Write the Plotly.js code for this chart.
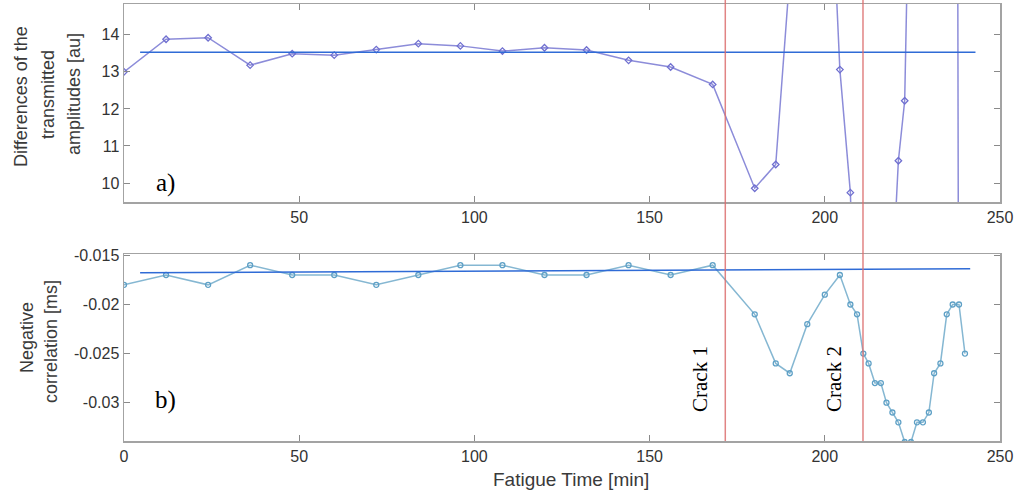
<!DOCTYPE html>
<html>
<head>
<meta charset="utf-8">
<script src="https://cdn.plot.ly/plotly-3.0.1.min.js"></script>
<style>html,body{margin:0;padding:0;background:#fff;}#chart{width:1020px;height:494px;}</style>
</head>
<body>
<div id="chart"></div>
<script>
// Fatigue time [min]
const fatigueTime = [0,12,24,36,48,60,72,84,96,108,120,132,144,156,168,180,186,190,195,200,204.3,207.3,209.2,211,212.5,214.3,216,217.6,219.3,221,222.8,224.6,226.3,228,229.7,231.2,233,234.8,236.5,238.3,240];
// a) Differences of the transmitted amplitudes [au] (values beyond the axis range are estimated)
const ampDiff = [13.0,13.88,13.92,13.18,13.49,13.45,13.6,13.76,13.70,13.56,13.65,13.59,13.31,13.13,12.66,9.86,10.50,15.6,24,22,13.06,9.74,4,2,1,2,3,4,7.4,10.6,12.22,20,30,40,45,55,60,70,80,0,2];
// b) Negative correlation [ms]
const negCorr = [-0.018,-0.017,-0.018,-0.016,-0.017,-0.017,-0.018,-0.017,-0.016,-0.016,-0.017,-0.017,-0.016,-0.017,-0.016,-0.021,-0.026,-0.027,-0.022,-0.019,-0.017,-0.020,-0.021,-0.025,-0.026,-0.028,-0.028,-0.030,-0.031,-0.032,-0.034,-0.034,-0.032,-0.032,-0.031,-0.027,-0.026,-0.021,-0.020,-0.020,-0.025];
// reference (mean / fit) lines
const ampRefX = [4.6, 243];
const ampRefY = [13.53, 13.53];
const corrRefX = [4.6, 241.5];
const corrRefY = [-0.01677, -0.01636];
// crack onsets [min]
const crackTimes = [171.6, 210.9];
const crackLabels = ["Crack 1", "Crack 2"];
// tick labels
const ampTicks = [10, 11, 12, 13, 14];
const corrTicks = [-0.015, -0.02, -0.025, -0.03];
const corrTickText = ["-0.015", "-0.02", "-0.025", "-0.03"];
const timeTicksTop = [50, 100, 150, 200, 250];
const timeTicksBottom = [0, 50, 100, 150, 200, 250];

const tickFont = {family: "Liberation Sans, Arial, sans-serif", size: 16, color: "#333"};
const axisCommon = {
  showgrid: false, zeroline: false, showline: true, linecolor: "#a3a3a3", linewidth: 1.5,
  mirror: "ticks", ticks: "inside", ticklen: 6, tickwidth: 1, tickcolor: "#8a8a8a",
  tickfont: tickFont
};

const traces = [
  {x: fatigueTime, y: ampDiff, xaxis: "x", yaxis: "y", mode: "lines+markers", type: "scatter",
   line: {color: "rgba(120,120,210,0.85)", width: 1.5},
   marker: {symbol: "diamond-open", size: 5, color: "#7070d0", line: {width: 1.3}}, cliponaxis: true},
  {x: ampRefX, y: ampRefY, xaxis: "x", yaxis: "y", mode: "lines", type: "scatter",
   line: {color: "#2f6bd6", width: 1.5}},
  {x: fatigueTime, y: negCorr, xaxis: "x2", yaxis: "y2", mode: "lines+markers", type: "scatter",
   line: {color: "rgba(120,175,205,0.9)", width: 1.5},
   marker: {symbol: "circle-open", size: 5, color: "#5ea0c6", line: {width: 1.3}}},
  {x: corrRefX, y: corrRefY, xaxis: "x2", yaxis: "y2", mode: "lines", type: "scatter",
   line: {color: "#2f6bd6", width: 1.5}}
];

const shapes = crackTimes.map(t => ({
  type: "line", xref: "x2", yref: "paper", x0: t, x1: t, y0: 0, y1: 1.01,
  line: {color: "rgba(220,110,110,0.85)", width: 1.5}, layer: "above"
}));

const ann = (text, x, y, size, opts) => Object.assign({
  text: text, xref: "paper", yref: "paper", x: x, y: y, showarrow: false,
  font: {family: "Liberation Sans, Arial, sans-serif", size: size, color: "#3a3a3a"},
  xanchor: "center", yanchor: "middle"
}, opts || {});

// paper coords helpers (plot area: left 124, right 1000, top 4, bottom 441)
const W = 876, H = 437, L = 124, T = 4;
const px = x => (x - L) / W;
const py = y => (T + H - y) / H;

const annotations = [
  ann("Differences of the", px(21), py(97), 18, {textangle: -90}),
  ann("transmitted", px(48), py(95), 18, {textangle: -90}),
  ann("amplitudes [au]", px(74), py(94), 18, {textangle: -90}),
  ann("Negative", px(27), py(338), 18, {textangle: -90}),
  ann("correlation [ms]", px(51), py(342), 18, {textangle: -90}),
  ann("Fatigue Time [min]", px(571), py(479), 19),
  ann("a)", px(165), py(183), 25, {font: {family: "Liberation Serif, Times New Roman, serif", size: 25, color: "#000"}}),
  ann("b)", px(165), py(400), 25, {font: {family: "Liberation Serif, Times New Roman, serif", size: 25, color: "#000"}}),
  ann(crackLabels[0], px(700), py(379), 21, {textangle: -90, font: {family: "Liberation Serif, Times New Roman, serif", size: 21, color: "#000"}}),
  ann(crackLabels[1], px(834), py(379), 21, {textangle: -90, font: {family: "Liberation Serif, Times New Roman, serif", size: 21, color: "#000"}})
];

const layout = {
  width: 1020, height: 494,
  margin: {l: 124, r: 20, t: 4, b: 53},
  paper_bgcolor: "#fff", plot_bgcolor: "#fff",
  showlegend: false,
  xaxis: Object.assign({}, axisCommon, {domain: [0, 1], anchor: "y", range: [0, 250], tickvals: timeTicksTop}),
  yaxis: Object.assign({}, axisCommon, {domain: [(441 - 202.3) / 437, 1], anchor: "x", range: [9.48, 14.83], tickvals: ampTicks}),
  xaxis2: Object.assign({}, axisCommon, {domain: [0, 1], anchor: "y2", range: [0, 250], tickvals: timeTicksBottom}),
  yaxis2: Object.assign({}, axisCommon, {domain: [0, 187 / 437], anchor: "x2", range: [-0.0339, -0.01486], tickvals: corrTicks, ticktext: corrTickText}),
  shapes: shapes,
  annotations: annotations
};

Plotly.newPlot("chart", traces, layout, {staticPlot: true, displayModeBar: false});
</script>
</body>
</html>
